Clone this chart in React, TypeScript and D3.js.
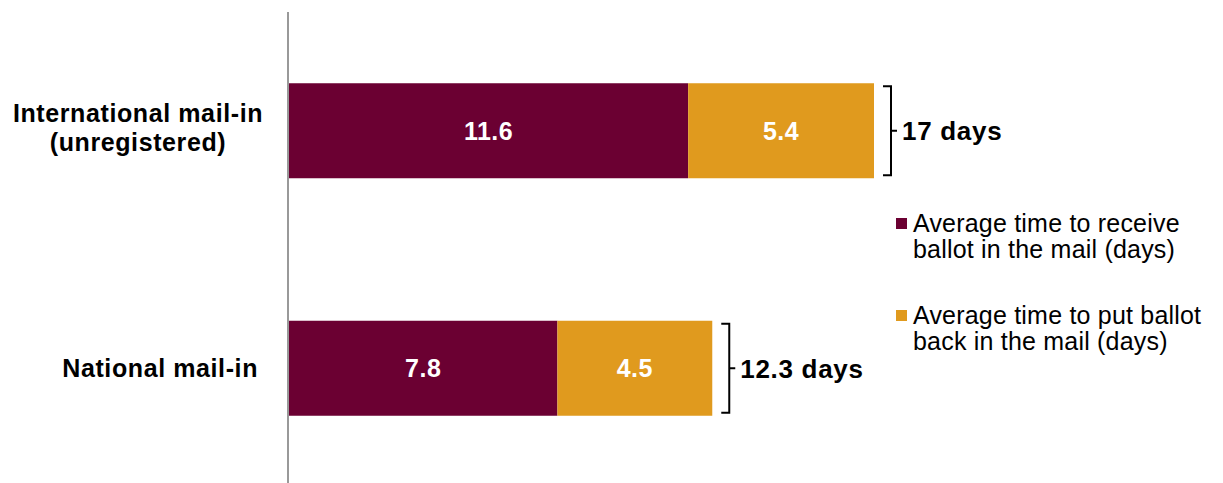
import React from "react";
import * as d3 from "d3";

const categories = ["International mail-in (unregistered)", "National mail-in"];
const receiveDays = [11.6, 7.8];
const returnDays = [5.4, 4.5];
const totalLabels = ["17 days", "12.3 days"];
const seriesNames = [
  ["Average time to receive", "ballot in the mail (days)"],
  ["Average time to put ballot", "back in the mail (days)"],
];
const colors = ["#6B0032", "#E09A1E"];

export default function App() {
  const width = 1223;
  const height = 483;
  const x0 = 289;
  const x = d3.scaleLinear().domain([0, 17]).range([x0, x0 + 585]);
  const y = d3.scaleBand().domain(categories).range([12, 487]).paddingInner(0.6).paddingOuter(0.3);
  const font = "'Liberation Sans', Arial, sans-serif";

  return (
    <div style={{ position: "absolute", left: 0, top: 0 }}>
      <svg width={width} height={height} style={{ display: "block" }} fontFamily={font}>
        <rect width={width} height={height} fill="#fff" />
        {categories.map((c, i) => {
          const yb = y(c)!;
          const bh = y.bandwidth();
          const a = receiveDays[i];
          const b = returnDays[i];
          const tot = a + b;
          const bx = x(tot) + 9;
          const cy = yb + bh / 2;
          return (
            <g key={c}>
              <rect x={x(0)} y={yb} width={x(a) - x(0)} height={bh} fill={colors[0]} />
              <rect x={x(a)} y={yb} width={x(tot) - x(a)} height={bh} fill={colors[1]} />
              <text x={(x(0) + x(a)) / 2} y={cy} dy="0.36em" textAnchor="middle" fill="#fff" fontWeight="bold" fontSize={25} letterSpacing={0.5}>
                {a.toFixed(1)}
              </text>
              <text x={(x(a) + x(tot)) / 2} y={cy} dy="0.36em" textAnchor="middle" fill="#fff" fontWeight="bold" fontSize={25} letterSpacing={0.5}>
                {b.toFixed(1)}
              </text>
              <path
                d={`M${bx},${yb + 3} H${bx + 8} V${yb + bh - 3} H${bx}`}
                fill="none"
                stroke="#000"
                strokeWidth={2}
              />
              <line x1={bx + 8} x2={bx + 14} y1={cy} y2={cy} stroke="#000" strokeWidth={2} />
              <text x={bx + 19} y={cy} dy="0.36em" fontWeight="bold" fontSize={26} fill="#000" letterSpacing={0.7}>
                {totalLabels[i]}
              </text>
            </g>
          );
        })}
        {/* category labels */}
        <text fontWeight="bold" fontSize={25} textAnchor="middle" fill="#000" letterSpacing={0.6}>
          <tspan x={138} y={122}>International mail-in</tspan>
          <tspan x={138} y={151}>(unregistered)</tspan>
        </text>
        <text x={258} y={y(categories[1])! + y.bandwidth() / 2} dy="0.36em" fontWeight="bold" fontSize={25} textAnchor="end" fill="#000" letterSpacing={0.6}>
          National mail-in
        </text>
        {/* axis line */}
        <line x1={288} x2={288} y1={12} y2={483} stroke="#999" strokeWidth={2} />
        {/* legend */}
        {seriesNames.map((lines, i) => {
          const top = 218 + i * 92;
          return (
            <g key={i}>
              <rect x={896} y={top} width={11} height={11} fill={colors[i]} />
              <text x={913} y={top + 14} fontSize={25} fill="#000" letterSpacing={0.2}>
                {lines[0]}
              </text>
              <text x={913} y={top + 40} fontSize={25} fill="#000" letterSpacing={0.2}>
                {lines[1]}
              </text>
            </g>
          );
        })}
      </svg>
    </div>
  );
}
